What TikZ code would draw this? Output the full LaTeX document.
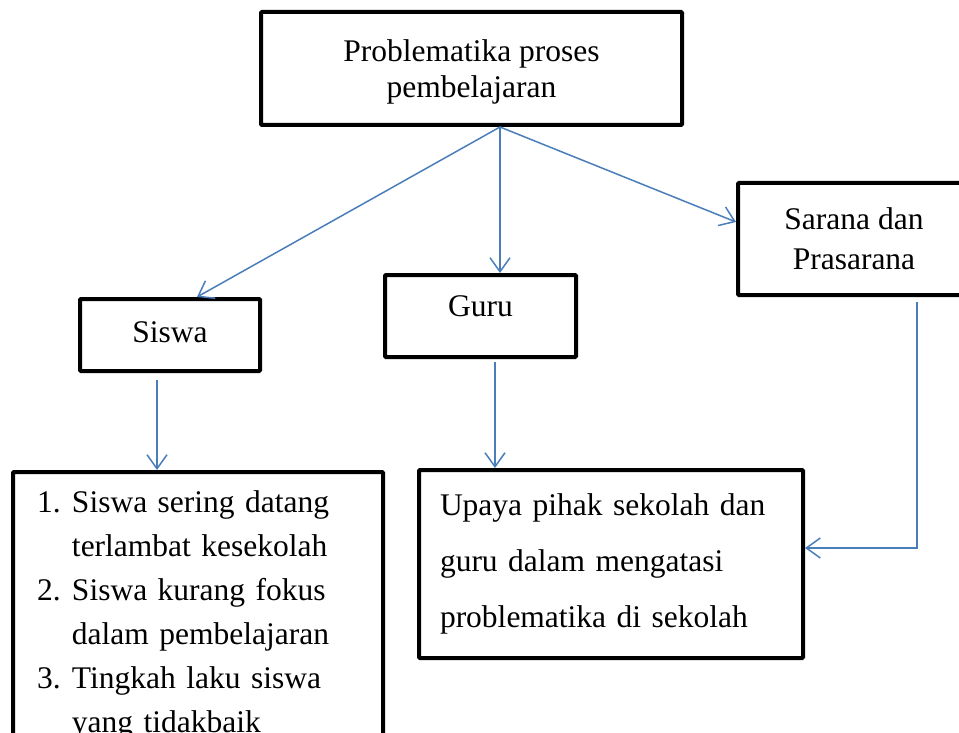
\documentclass[tikz,border=0pt]{standalone}
\usepackage{fontspec}
\setmainfont{Liberation Serif}
\usepackage{tikz}
\usetikzlibrary{arrows.meta, positioning}
\definecolor{biru}{RGB}{74,126,187}
\tikzstyle{kotak} = [draw, line width=4pt, rectangle, rounded corners=1pt, inner sep=0pt, font=\fontsize{31.5}{36}\selectfont]
\tikzstyle{satubaris} = [text height=22pt, text depth=7pt]
\tikzstyle{panah} = [draw=biru, line width=1.5pt, -{Straight Barb[length=14pt, width=20pt]}]

\begin{document}
\begin{tikzpicture}[x=1pt, y=-1pt]
	\useasboundingbox (0,0) rectangle (959,733);
	\clip (0,0) rectangle (959,733);
	\node [kotak, minimum width=421pt, minimum height=113pt, align=center] (problematika) at (471.5,68.5) {\rule{0pt}{29.5pt}Problematika proses\\pembelajaran};
	\node [kotak, satubaris, minimum width=180pt, minimum height=72pt] (siswa) at (170,335) {Siswa};
	\node [kotak, satubaris, minimum width=191pt, minimum height=82pt] (guru) at (480.5,316) {\raisebox{7pt}{Guru}};
	\node [kotak, minimum width=232pt, minimum height=112pt, align=center, font=\fontsize{31.5}{40}\selectfont] (sarana) at (854,239) {Sarana dan\\Prasarana};
	\node [kotak, minimum width=370pt, minimum height=284pt, inner xsep=24pt, text width=322pt, align=left, font=\fontsize{31.5}{44}\selectfont] (daftar) at (198,614) {%
		\begin{tabular}{@{}p{35pt}@{}l@{}}
			1. & Siswa sering datang\\
			   & terlambat kesekolah\\
			2. & Siswa kurang fokus\\
			   & dalam pembelajaran\\
			3. & Tingkah laku siswa\\
			   & yang tidakbaik
		\end{tabular}};
	\node [kotak, minimum width=384pt, minimum height=188pt, inner xsep=21pt, text width=342pt, align=left, font=\fontsize{31.5}{56}\selectfont] (upaya) at (611,564) {Upaya pihak sekolah dan\\guru dalam mengatasi\\problematika di sekolah};

	\draw [panah] ([xshift=28.5pt]problematika.south) -- ([xshift=27pt]siswa.north);
	\draw [panah] ([xshift=28.5pt]problematika.south) -- ([xshift=19.5pt]guru.north);
	\draw [panah] ([xshift=28.5pt]problematika.south) -- ([yshift=17pt]sarana.west);
	\draw [panah] ([xshift=-13pt, yshift=-7pt]siswa.south) -- ([xshift=-41pt]daftar.north);
	\draw [panah] ([xshift=14.5pt, yshift=-3pt]guru.south) -- ([xshift=-116pt]upaya.north);
	\draw [panah] ([xshift=63pt, yshift=-5pt]sarana.south) |- ([yshift=16pt]upaya.east);
\end{tikzpicture}
\end{document}
